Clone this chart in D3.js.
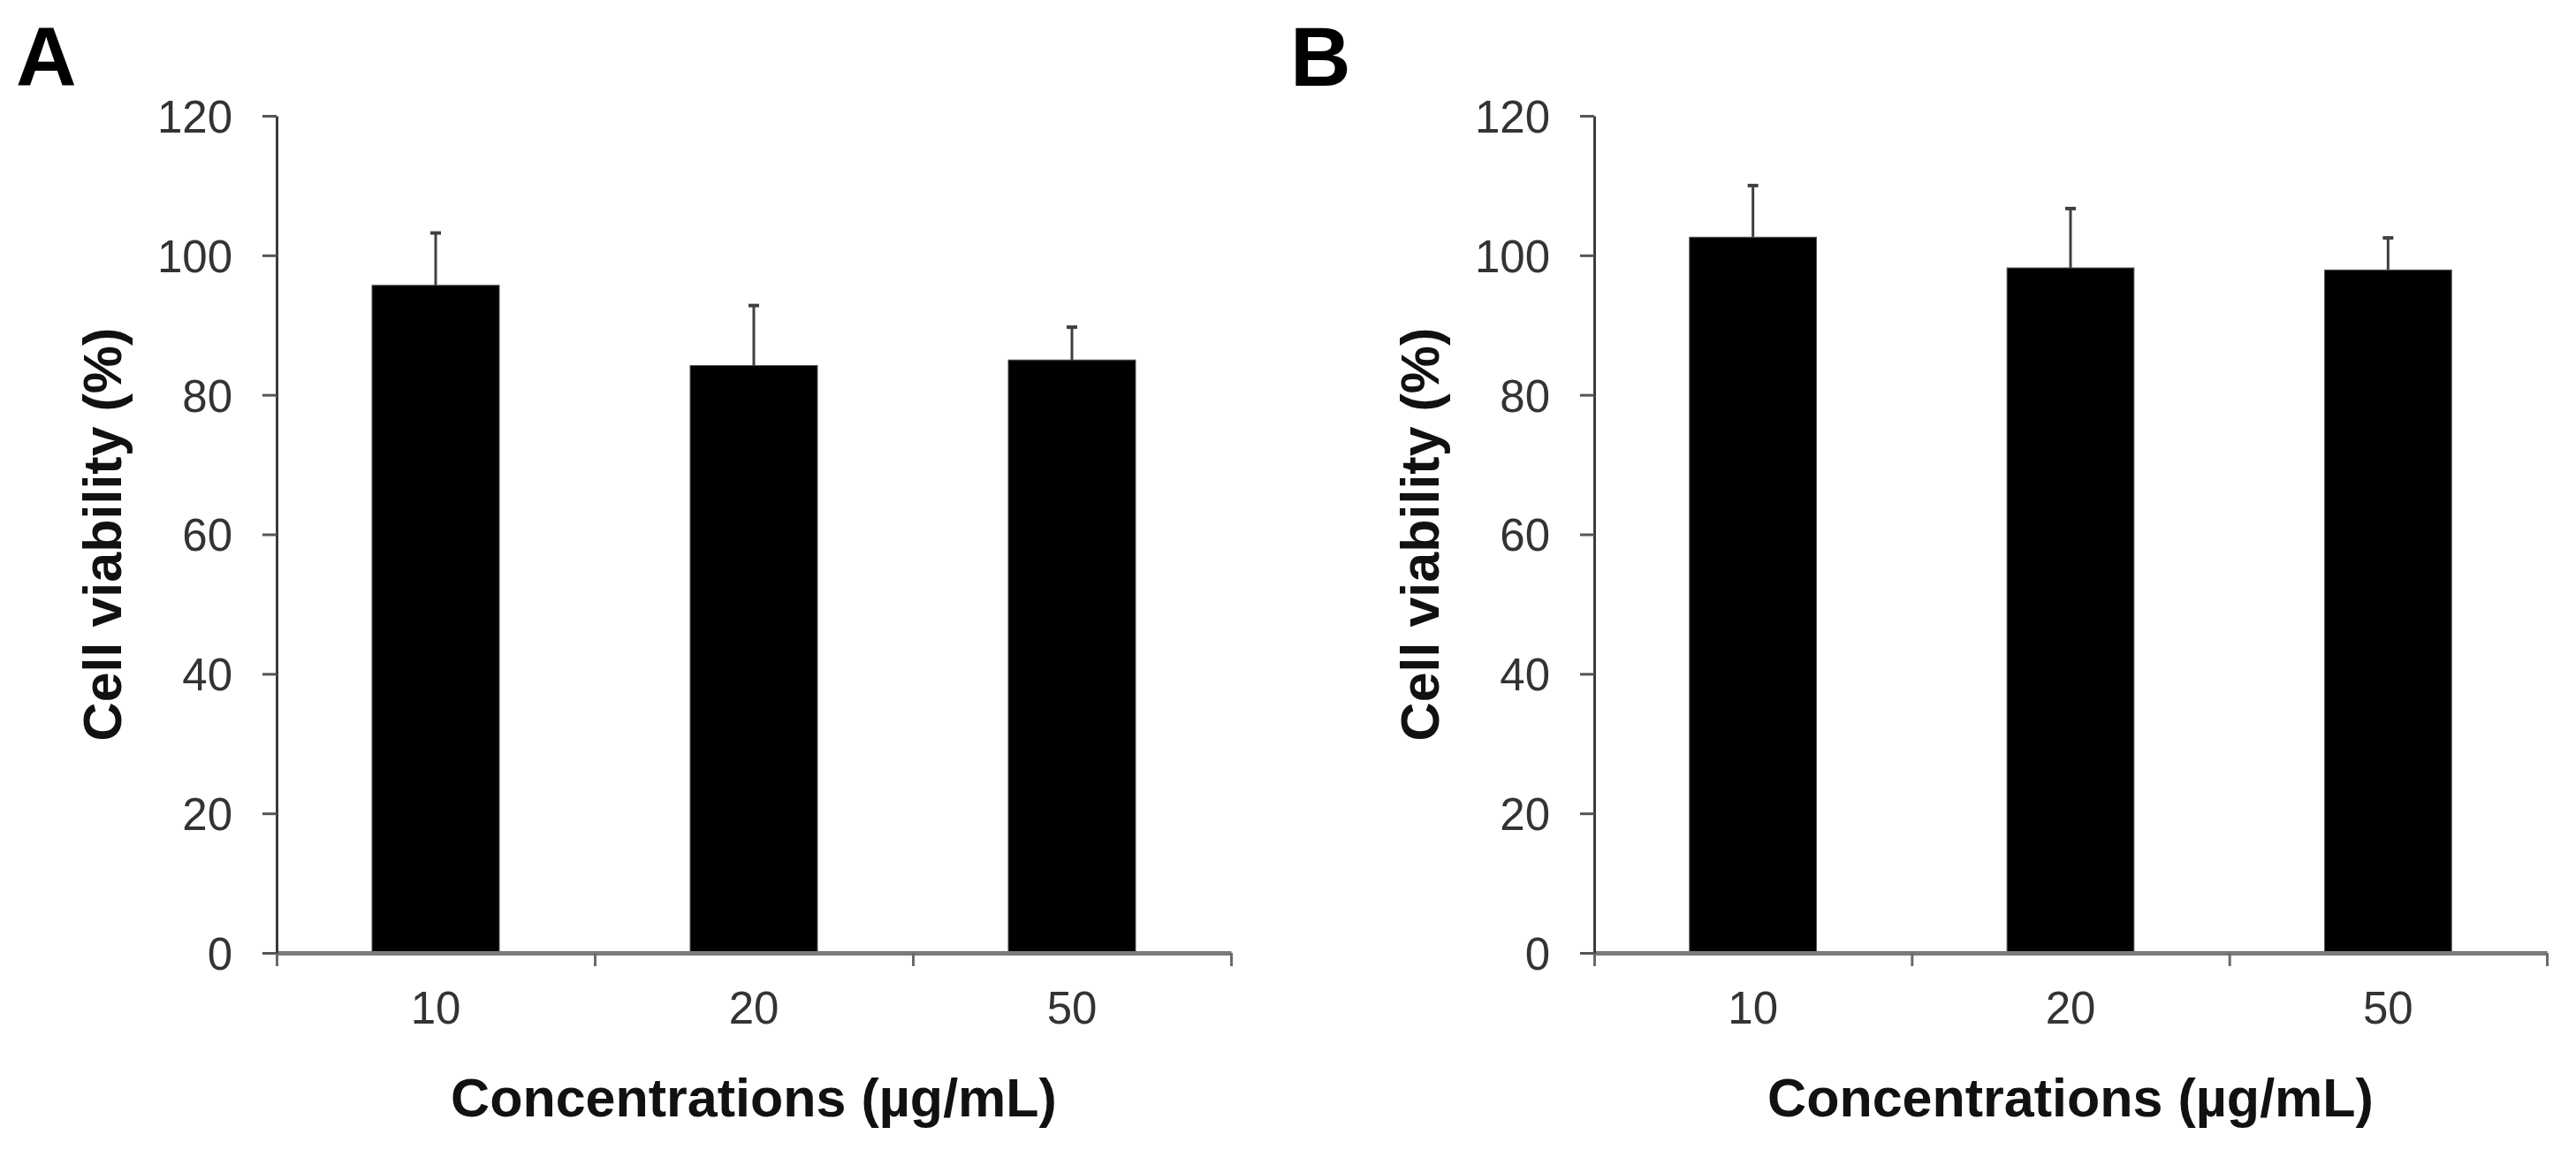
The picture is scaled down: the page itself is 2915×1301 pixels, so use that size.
<!DOCTYPE html>
<html>
<head>
<meta charset="utf-8">
<script src="https://cdnjs.cloudflare.com/ajax/libs/d3/7.8.5/d3.min.js"></script>
<style>
	body { margin: 0; background: #ffffff; }
	text { font-family: "Liberation Sans", Arial, sans-serif; }
</style>
</head>
<body>
<svg id="chart" width="2915" height="1301"></svg>
<script>

// data
const categories = ['10', '20', '50'];
const y_ticks = [0, 20, 40, 60, 80, 100, 120];
const viability_a = [95.7, 84.2, 85.0];
const error_a = [7.5, 8.6, 4.7];
const viability_b = [102.6, 98.2, 97.9];
const error_b = [7.4, 8.5, 4.6];

const svg = d3.select('#chart');

const y_top = 131, y_bottom = 1078;

const draw_panel = function(letter, letter_x, x0, x1, values, errors){

	const g = svg.append('g');

	const y = d3.scaleLinear().domain([0, 120]).range([y_bottom, y_top]);
	const xband = d3.scaleBand().domain(categories).range([x0, x1]).padding(0);
	const xlin = d3.scaleLinear().domain([0, categories.length]).range([x0, x1]);

	// bars
	const bar_w = xband.bandwidth() * 0.4;
	g.selectAll('.bar')
			.data(values)
			.enter()
		.append('rect')
			.attr('class', 'bar')
			.attr('x', (d, i) => xband(categories[i]) + (xband.bandwidth() - bar_w) / 2)
			.attr('y', d => y(d))
			.attr('width', bar_w)
			.attr('height', d => y(0) - y(d))
			.attr('fill', '#000000')
			.attr('stroke', '#555555')
			.attr('stroke-width', 1);

	// upper error bars
	const cx = i => xband(categories[i]) + xband.bandwidth() / 2;
	g.selectAll('.err')
			.data(values)
			.enter()
		.append('line')
			.attr('class', 'err')
			.attr('x1', (d, i) => cx(i))
			.attr('x2', (d, i) => cx(i))
			.attr('y1', d => y(d))
			.attr('y2', (d, i) => y(d + errors[i]))
			.attr('stroke', '#404040')
			.attr('stroke-width', 3);
	g.selectAll('.cap')
			.data(values)
			.enter()
		.append('line')
			.attr('class', 'cap')
			.attr('x1', (d, i) => cx(i) - 6)
			.attr('x2', (d, i) => cx(i) + 6)
			.attr('y1', (d, i) => y(d + errors[i]))
			.attr('y2', (d, i) => y(d + errors[i]))
			.attr('stroke', '#404040')
			.attr('stroke-width', 4);

	// x axis: tick marks at the category borders
	const x_axis = g.append('g')
			.attr('transform', `translate(0,${y_bottom})`)
			.call(d3.axisBottom(xlin).tickValues(d3.range(categories.length + 1)).tickSize(15).tickSizeOuter(0).tickFormat(''));
	x_axis.select('.domain').attr('stroke', '#7a7a7a').attr('stroke-width', 5);
	x_axis.selectAll('.tick line').attr('stroke', '#6a6a6a').attr('stroke-width', 3);

	const x_labels = g.append('g')
			.attr('transform', `translate(0,${y_bottom})`)
			.call(d3.axisBottom(xband).tickSize(0).tickPadding(80));
	x_labels.select('.domain').remove();
	x_labels.selectAll('text')
			.attr('font-size', 51)
			.attr('font-family', '"Liberation Sans", Arial, sans-serif')
			.attr('fill', '#333333')
			.attr('dy', 0);

	// y axis
	const y_axis = g.append('g')
			.attr('transform', `translate(${x0},0)`)
			.call(d3.axisLeft(y).tickValues(y_ticks).tickSize(16).tickSizeOuter(0).tickPadding(34));
	y_axis.select('.domain').attr('stroke', '#3a3a3a').attr('stroke-width', 3);
	y_axis.selectAll('.tick line').attr('stroke', '#555555').attr('stroke-width', 3);
	y_axis.selectAll('text')
			.attr('font-size', 51)
			.attr('font-family', '"Liberation Sans", Arial, sans-serif')
			.attr('fill', '#333333')
			.attr('dy', '0.36em');

	// titles
	g.append('text')
			.attr('x', (x0 + x1) / 2)
			.attr('y', 1263)
			.attr('text-anchor', 'middle')
			.attr('font-size', 61)
			.attr('font-weight', 'bold')
			.attr('fill', '#111111')
			.text('Concentrations (µg/mL)');

	g.append('text')
			.attr('transform', `translate(${x0 - 176},${(y_top + y_bottom) / 2}) rotate(-90)`)
			.attr('text-anchor', 'middle')
			.attr('font-size', 61)
			.attr('font-weight', 'bold')
			.attr('fill', '#111111')
			.text('Cell viability (%)');

	g.append('text')
			.attr('x', letter_x)
			.attr('y', 97)
			.attr('font-size', 95)
			.attr('font-weight', 'bold')
			.attr('fill', '#000000')
			.text(letter);
};

draw_panel('A', 18, 313, 1393, viability_a, error_a);
draw_panel('B', 1460, 1804, 2882, viability_b, error_b);

</script>
</body>
</html>
